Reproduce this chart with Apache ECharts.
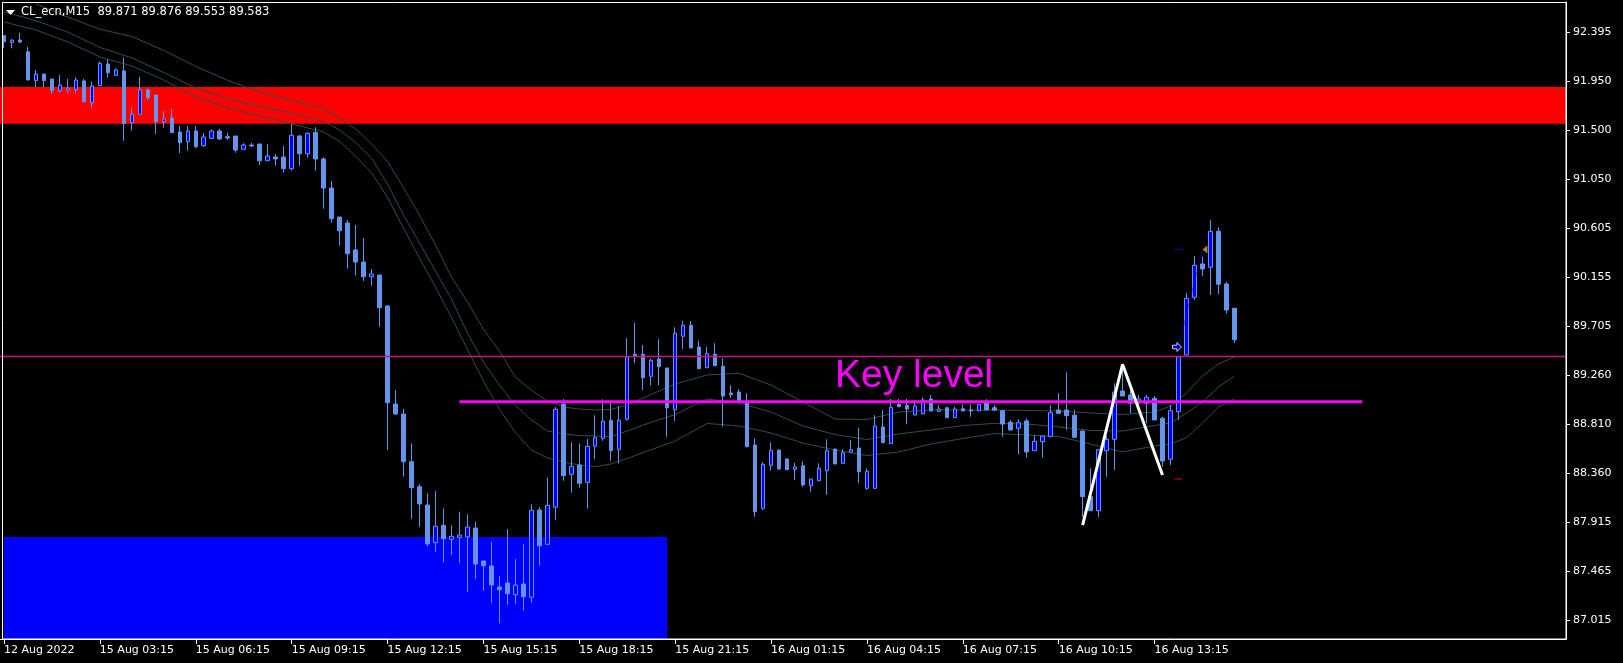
<!DOCTYPE html>
<html><head><meta charset="utf-8">
<script src="https://cdn.jsdelivr.net/npm/echarts/dist/echarts.min.js"></script>
<style>html,body{margin:0;padding:0;background:#000;}#c{width:1623px;height:663px;}</style>
</head><body><div id="c"></div>
<script>
// ---- tick labels ----
const tickLabels = ['12 Aug 2022','15 Aug 03:15','15 Aug 06:15','15 Aug 09:15','15 Aug 12:15','15 Aug 15:15','15 Aug 18:15','15 Aug 21:15','16 Aug 01:15','16 Aug 04:15','16 Aug 07:15','16 Aug 10:15','16 Aug 13:15'];
const yTicks = [92.395,91.950,91.500,91.050,90.605,90.155,89.705,89.260,88.810,88.360,87.915,87.465,87.015];

// ---- OHLC (M15 bars) ----
const opens = [92.367,92.306,92.327,92.220,91.955,92.016,91.970,91.863,91.870,91.876,91.952,91.753,91.909,92.108,92.004,92.044,91.570,91.647,91.870,91.824,91.579,91.613,91.485,91.396,91.494,91.360,91.427,91.494,91.442,91.448,91.327,91.366,91.375,91.222,91.256,91.256,91.149,91.448,91.286,91.482,91.238,90.972,90.707,90.652,90.405,90.295,90.160,90.176,89.892,88.995,88.904,88.467,88.238,88.071,87.726,87.885,87.757,87.775,87.780,87.860,87.558,87.512,87.320,87.357,87.249,87.347,87.226,88.025,87.711,88.050,88.995,88.352,88.437,88.278,88.608,88.681,88.846,88.580,88.855,89.450,89.450,89.249,89.407,89.325,88.943,89.615,89.716,89.517,89.327,89.450,89.340,89.096,89.105,89.011,88.620,88.040,88.434,88.574,88.492,88.397,88.430,88.247,88.293,88.385,88.583,88.452,88.553,88.592,88.223,88.223,88.785,88.632,88.992,88.983,88.894,88.904,89.041,88.928,88.961,88.870,88.952,88.940,88.934,89.007,88.961,88.934,88.828,88.773,88.840,88.568,88.650,88.696,88.940,88.940,88.892,88.748,88.147,88.018,88.568,88.672,89.114,89.078,89.004,89.002,89.047,88.864,88.489,88.925,89.444,89.972,90.277,90.247,90.576,90.094,89.871];
const closes = [92.312,92.325,92.309,91.961,92.016,91.955,91.863,91.915,91.888,91.961,91.762,91.906,92.114,92.028,92.053,91.561,91.647,91.870,91.799,91.579,91.604,91.479,91.387,91.494,91.350,91.439,91.494,91.421,91.430,91.320,91.366,91.357,91.222,91.265,91.238,91.149,91.455,91.286,91.473,91.238,90.972,90.691,90.581,90.371,90.295,90.160,90.185,89.877,89.007,88.904,88.467,88.229,88.080,87.714,87.876,87.762,87.784,87.796,87.869,87.531,87.515,87.338,87.295,87.259,87.338,87.231,88.022,87.698,88.068,88.947,88.339,88.425,88.269,88.608,88.687,88.837,88.568,88.846,89.425,89.428,89.236,89.395,89.337,88.961,89.642,89.716,89.508,89.318,89.456,89.346,89.068,89.080,89.025,88.604,88.009,88.443,88.571,88.400,88.394,88.418,88.254,88.309,88.407,88.568,88.446,88.549,88.577,88.375,88.379,88.794,88.641,88.965,88.970,88.949,88.977,89.032,88.931,88.949,88.870,88.949,88.931,88.931,88.992,88.940,88.940,88.812,88.757,88.824,88.556,88.654,88.702,88.916,88.910,88.888,88.690,88.147,88.018,88.577,88.672,89.105,89.068,89.002,89.041,89.057,88.849,88.473,88.934,89.428,89.963,90.265,90.231,90.576,90.091,89.856,89.583];
const lows = [92.251,92.251,92.297,91.961,91.894,91.894,91.833,91.845,91.845,91.839,91.762,91.702,91.909,91.982,92.004,91.405,91.497,91.647,91.778,91.467,91.524,91.479,91.290,91.314,91.339,91.350,91.421,91.412,91.412,91.296,91.327,91.348,91.183,91.222,91.177,91.113,91.131,91.177,91.250,91.131,90.783,90.655,90.444,90.234,90.170,90.121,90.078,89.703,88.574,88.894,88.330,87.945,87.872,87.689,87.643,87.546,87.613,87.537,87.277,87.393,87.286,87.171,86.988,87.155,87.164,87.103,87.176,87.515,87.711,87.931,88.293,88.183,88.229,88.037,88.492,88.659,88.476,88.452,88.842,89.368,89.123,89.166,89.166,88.696,88.840,89.499,89.508,89.318,89.325,89.346,88.787,89.050,89.014,88.599,87.963,88.025,88.385,88.391,88.391,88.299,88.238,88.192,88.293,88.165,88.446,88.452,88.553,88.269,88.208,88.223,88.641,88.632,88.970,88.809,88.894,88.904,88.931,88.922,88.870,88.870,88.931,88.879,88.934,88.940,88.931,88.696,88.757,88.535,88.504,88.568,88.504,88.696,88.910,88.757,88.690,87.963,88.018,87.963,88.330,88.391,89.068,88.910,88.977,88.819,88.849,88.421,88.437,88.849,89.444,89.947,90.167,89.993,90.002,89.825,89.553];
const highs = [92.367,92.336,92.394,92.266,92.053,92.016,91.970,92.007,91.970,91.986,91.970,91.946,92.129,92.151,92.068,92.165,91.708,91.991,91.885,91.824,91.677,91.696,91.540,91.540,91.540,91.476,91.510,91.515,91.479,91.448,91.382,91.387,91.375,91.375,91.284,91.357,91.558,91.458,91.482,91.528,91.253,91.036,90.707,90.680,90.634,90.515,90.231,90.176,89.901,89.123,88.949,88.635,88.263,88.178,88.199,88.040,87.885,88.009,87.985,87.918,87.558,87.732,87.421,87.851,87.576,87.714,88.077,88.052,88.324,88.970,89.041,88.645,88.635,88.675,88.892,89.038,89.011,88.974,89.599,89.737,89.535,89.410,89.587,89.325,89.697,89.755,89.755,89.575,89.517,89.551,89.414,89.166,89.130,89.093,88.681,88.464,88.645,88.574,88.498,88.455,88.471,88.309,88.452,88.672,88.583,88.583,88.666,88.778,88.407,88.892,88.940,89.041,89.041,89.041,89.032,89.056,89.078,88.986,88.970,88.970,88.992,88.992,88.992,89.038,88.986,88.934,88.849,88.855,88.864,88.711,88.702,88.986,89.093,89.285,88.940,88.748,88.407,88.577,88.702,89.185,89.337,89.123,89.078,89.078,89.068,88.879,88.986,89.428,90.014,90.350,90.344,90.680,90.613,90.112,89.876];

// ---- moving averages [bar, value] ----
const maUpper = [[4,92.659],[8,92.536],[12,92.426],[16,92.359],[20,92.232],[24,92.086],[28,91.958],[32,91.851],[36,91.775],[40,91.698],[42,91.610],[44,91.515],[46,91.377],[48,91.214],[50,90.976],[52,90.725],[54,90.451],[56,90.158],[58,89.929],[60,89.682],[62,89.480],[64,89.242],[66,89.123],[68,89.023],[70,88.968],[72,88.949],[74,88.940],[76,88.945],[78,88.986],[80,89.050],[84,89.178],[88,89.261],[92,89.276],[96,89.169],[100,89.013],[104,88.858],[108,88.853],[112,88.922],[116,88.940],[120,88.940],[124,88.940],[128,88.936],[132,88.931],[136,88.913],[140,88.899],[144,88.922],[146,88.977],[148,89.096],[150,89.251],[152,89.362],[154,89.425]];
const maMiddle = [[0,92.586],[4,92.504],[8,92.399],[12,92.259],[16,92.163],[20,92.030],[24,91.888],[28,91.792],[32,91.718],[36,91.661],[40,91.581],[42,91.505],[44,91.389],[46,91.248],[48,91.009],[50,90.725],[52,90.469],[54,90.213],[56,89.956],[58,89.645],[60,89.380],[62,89.169],[64,88.986],[66,88.849],[68,88.748],[70,88.721],[72,88.707],[74,88.702],[76,88.696],[78,88.748],[80,88.803],[84,88.899],[88,89.041],[92,89.004],[96,88.922],[100,88.794],[104,88.716],[108,88.670],[112,88.721],[116,88.757],[120,88.798],[124,88.818],[128,88.812],[132,88.785],[136,88.753],[140,88.748],[144,88.798],[146,88.821],[148,88.913],[150,89.013],[152,89.151],[154,89.251]];
const maLower = [[0,92.492],[4,92.419],[8,92.309],[12,92.172],[16,92.089],[20,91.961],[24,91.806],[28,91.705],[32,91.632],[36,91.559],[40,91.485],[42,91.399],[44,91.265],[46,91.113],[48,90.887],[50,90.606],[52,90.332],[54,90.066],[56,89.789],[58,89.496],[60,89.206],[62,88.949],[64,88.734],[66,88.574],[68,88.501],[70,88.464],[72,88.437],[74,88.421],[76,88.446],[78,88.496],[80,88.551],[84,88.656],[88,88.817],[92,88.794],[96,88.730],[100,88.638],[104,88.574],[108,88.524],[112,88.556],[116,88.629],[120,88.679],[124,88.725],[128,88.711],[132,88.698],[136,88.629],[140,88.556],[144,88.611],[146,88.629],[148,88.688],[150,88.821],[152,88.968],[154,89.041]];

// ---- drawings ----
const supplyZone = [91.897, 91.561];
const demandZone = {fromBar: 0, toBar: 83, top: 87.778};
const thinLevel = 89.4345;
const keyLevel = {fromBar: 57, toBar: 170, value: 89.016};
const zigzag = [[135, 87.887], [140, 89.359], [145, 88.345]];
const tradeOpen = [147, 89.517];
const tradeClose = [150, 90.409];
const takeProfit = [147, 90.411];
const stopLoss = [147, 88.309];
const bid = 89.583;

const Y_MIN = 86.844, Y_MAX = 92.675;
const N_SLOTS = 196;
const categories = Array.from({length: N_SLOTS}, (_, i) => String(i));
const candleData = opens.map((o, i) => [o, closes[i], lows[i], highs[i]]);
const showTick = (i) => i % 12 === 0 && i / 12 < tickLabels.length;
const FONT = 'DejaVu Sans';

const chart = echarts.init(document.getElementById('c'), null, {renderer: 'canvas'});
const maStyle = (d) => ({type: 'line', data: d, symbol: 'none', z: 2, silent: true,
  lineStyle: {color: '#2F4F4F', width: 1}});

chart.setOption({
  backgroundColor: '#000',
  animation: false,
  grid: {left: 0, top: 2, width: 1566, height: 637},
  xAxis: {
    type: 'category', data: categories, boundaryGap: true,
    axisLine: {lineStyle: {color: '#fff', width: 1}},
    axisTick: {show: true, alignWithLabel: true, length: 5, interval: showTick, lineStyle: {color: '#fff'}},
    axisLabel: {interval: showTick, formatter: (v, i) => tickLabels[i / 12] || '', color: '#fff',
      fontFamily: FONT, fontSize: 11, align: 'left', margin: 6},
    splitLine: {show: false}
  },
  yAxis: {
    type: 'value', position: 'right', min: Y_MIN, max: Y_MAX,
    axisLine: {show: true, lineStyle: {color: '#fff'}},
    axisTick: {show: true, length: 4, customValues: yTicks, lineStyle: {color: '#fff'}},
    axisLabel: {customValues: yTicks, formatter: v => v.toFixed(3), color: '#fff', fontFamily: FONT, fontSize: 11, margin: 7},
    splitLine: {show: false}
  },
  series: [
    {type: 'line', data: [], z: 1, silent: true,
      markArea: {silent: true, data: [
        [{yAxis: supplyZone[0], itemStyle: {color: '#FF0000'}}, {yAxis: supplyZone[1]}],
        [{xAxis: demandZone.fromBar, yAxis: demandZone.top, itemStyle: {color: '#0000FF'}}, {xAxis: demandZone.toBar, yAxis: Y_MIN}]
      ]}},
    maStyle(maUpper), maStyle(maMiddle), maStyle(maLower),
    {type: 'candlestick', data: candleData, z: 3, barWidth: 4, silent: true,
      itemStyle: {color: '#0000FF', color0: '#6495ED', borderColor: '#6495ED', borderColor0: '#6495ED', borderWidth: 1},
      markLine: {symbol: 'none', silent: true, data: [{yAxis: bid}], lineStyle: {opacity: 0},
        label: {show: true, position: 'end', formatter: bid.toFixed(3), color: '#000', backgroundColor: '#fff',
          padding: [2, 5, 1, 5], fontFamily: FONT, fontSize: 11, distance: 2}}},
    {type: 'line', data: [], z: 4, silent: true,
      markLine: {symbol: 'none', silent: true, data: [{yAxis: thinLevel}], lineStyle: {color: '#C71585', width: 1.3, type: 'solid'}, label: {show: false}}},
    {type: 'line', data: [[keyLevel.fromBar, keyLevel.value], [keyLevel.toBar, keyLevel.value]], symbol: 'none', z: 5, silent: true,
      lineStyle: {color: '#FF00FF', width: 3}},
    {type: 'line', data: zigzag, symbol: 'none', z: 6, silent: true, lineStyle: {color: '#FFFFFF', width: 3}},
    {type: 'line', data: [tradeOpen, tradeClose], symbol: 'none', z: 6, silent: true, lineStyle: {color: '#0000FF', width: 1, type: 'dotted'}},
    {type: 'scatter', z: 7, silent: true, data: [
      {value: tradeOpen, symbol: 'path://M0,3 L5,3 L5,0 L10,5 L5,10 L5,7 L0,7 Z', symbolSize: [9, 9], symbolOffset: [-1.5, 0],
        itemStyle: {color: '#0000FF', borderColor: '#FFFFFF', borderWidth: 1}},
      {value: tradeClose, symbol: 'triangle', symbolRotate: 90, symbolSize: [8, 5], symbolOffset: [2.5, 0], itemStyle: {color: '#E0A020'}},
      {value: takeProfit, symbol: 'rect', symbolSize: [7, 1.5], itemStyle: {color: '#0000AA'}},
      {value: stopLoss, symbol: 'rect', symbolSize: [7, 1.5], itemStyle: {color: '#CC0000'}}
    ]}
  ],
  graphic: [
    {type: 'rect', z: 100, silent: true, shape: {x: 2.5, y: 2.5, width: 1563.5, height: 636.5}, style: {fill: null, stroke: '#FFFFFF', lineWidth: 1}},
    {type: 'polygon', z: 100, silent: true, shape: {points: [[6, 10], [15, 10], [10.5, 15]]}, style: {fill: '#FFFFFF'}},
    {type: 'text', z: 100, silent: true, x: 21, y: 12.5, style: {
      text: 'CL_ecn,M15  ' + [opens[154], highs[154], lows[154], closes[154]].map(v => v.toFixed(3)).join(' '),
      fill: '#FFFFFF', fontSize: 11.5, fontFamily: FONT, verticalAlign: 'middle'}},
    {type: 'text', z: 100, silent: true, x: 835, y: 376, style: {text: 'Key level', fill: '#FF00FF', fontSize: 39, fontFamily: 'Liberation Sans', verticalAlign: 'middle'}}
  ]
});
</script>
</body></html>
